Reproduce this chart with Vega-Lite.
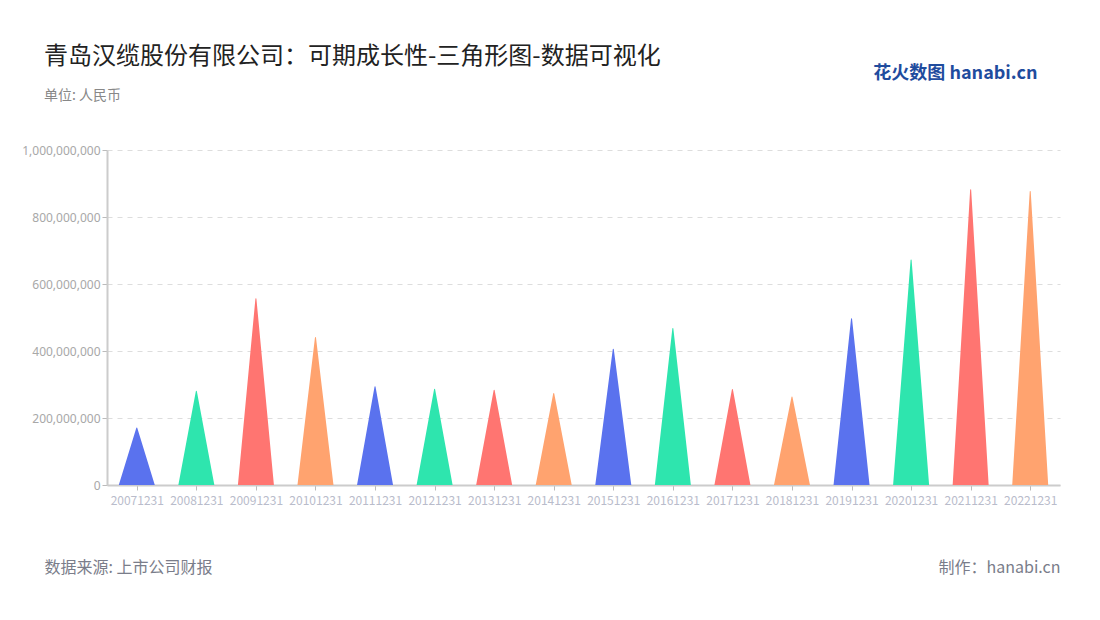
{
  "$schema": "https://vega.github.io/schema/vega-lite/v6.json",
  "autosize": {"type": "none"},
  "width": 953,
  "height": 335,
  "padding": {"left": 107, "top": 150, "right": 40, "bottom": 135},
  "background": "white",
  "config": {
    "font": "Noto Sans CJK SC",
    "view": {"stroke": null}
  },
  "title": {
    "text": "青岛汉缆股份有限公司：可期成长性-三角形图-数据可视化",
    "subtitle": "单位: 人民币",
    "anchor": "start",
    "frame": "group",
    "dx": -63,
    "offset": -39,
    "fontSize": 24,
    "fontWeight": "normal",
    "color": "#222222",
    "subtitleFontSize": 14,
    "subtitleColor": "#888888",
    "subtitlePadding": 20
  },
  "data": {
    "values": [
      {"date": "20071231", "value": 170000000},
      {"date": "20081231", "value": 280000000},
      {"date": "20091231", "value": 556000000},
      {"date": "20101231", "value": 440000000},
      {"date": "20111231", "value": 293000000},
      {"date": "20121231", "value": 286000000},
      {"date": "20131231", "value": 283000000},
      {"date": "20141231", "value": 273000000},
      {"date": "20151231", "value": 405000000},
      {"date": "20161231", "value": 467000000},
      {"date": "20171231", "value": 285000000},
      {"date": "20181231", "value": 263000000},
      {"date": "20191231", "value": 496000000},
      {"date": "20201231", "value": 672000000},
      {"date": "20211231", "value": 881000000},
      {"date": "20221231", "value": 876000000}
    ]
  },
  "layer": [
    {
      "transform": [
        {"calculate": "0", "as": "base"},
        {"fold": ["base", "value"], "as": ["key", "y"]}
      ],
      "mark": {"type": "trail", "clip": true},
      "encoding": {
        "x": {
          "field": "date",
          "type": "nominal",
          "sort": null,
          "axis": {
            "labelAngle": 0,
            "labelFontSize": 12,
            "labelColor": "#b9bccb",
            "labelPadding": 5,
            "tickColor": "#bbbbbb",
            "tickSize": 5,
            "domainColor": "#cccccc",
            "domainWidth": 2,
            "grid": false,
            "title": "数据来源: 上市公司财报",
            "titleFontSize": 16,
            "titleFontWeight": "normal",
            "titleColor": "#7a7d8a",
            "titleAlign": "left",
            "titleAnchor": "start",
            "titleBaseline": "middle",
            "titleX": -63,
            "titleY": 82
          }
        },
        "y": {
          "field": "y",
          "type": "quantitative",
          "scale": {"domain": [0, 1000000000]},
          "axis": {
            "values": [0, 200000000, 400000000, 600000000, 800000000, 1000000000],
            "format": ",d",
            "labelFontSize": 12,
            "labelColor": "#a8a8a8",
            "labelFont": "Noto Sans",
            "tickColor": "#bbbbbb",
            "tickSize": 5,
            "domainColor": "#cccccc",
            "domainWidth": 2,
            "grid": true,
            "gridColor": "#dddddd",
            "gridDash": [5, 5],
            "title": null
          }
        },
        "size": {
          "field": "key",
          "type": "ordinal",
          "scale": {"type": "ordinal", "domain": ["base", "value"], "range": [36, 0]},
          "legend": null
        },
        "order": {"field": "key", "type": "ordinal"},
        "detail": {"field": "date", "type": "nominal"},
        "color": {
          "field": "date",
          "type": "nominal",
          "scale": {
            "range": ["#5a72ee", "#2ee5ae", "#ff7571", "#ffa36f", "#5a72ee", "#2ee5ae", "#ff7571", "#ffa36f", "#5a72ee", "#2ee5ae", "#ff7571", "#ffa36f", "#5a72ee", "#2ee5ae", "#ff7571", "#ffa36f"]
          },
          "legend": null
        }
      }
    },
    {
      "mark": {"type": "point", "opacity": 0},
      "encoding": {
        "x": {
          "field": "date",
          "type": "nominal",
          "sort": null,
          "axis": {
            "orient": "top",
            "labels": false,
            "ticks": false,
            "domain": false,
            "grid": false,
            "title": "花火数图 hanabi.cn",
            "titleFontSize": 18,
            "titleFontWeight": "bold",
            "titleColor": "#1f4c9e",
            "titleAlign": "right",
            "titleAnchor": "end",
            "titleBaseline": "middle",
            "titleX": 930,
            "titleY": -77
          }
        },
        "y": {
          "field": "value",
          "type": "quantitative",
          "axis": {
            "orient": "right",
            "labels": false,
            "ticks": false,
            "domain": false,
            "grid": false,
            "title": "制作：hanabi.cn",
            "titleAngle": 0,
            "titleFontSize": 16,
            "titleFontWeight": "normal",
            "titleColor": "#7a7d8a",
            "titleAlign": "right",
            "titleBaseline": "middle",
            "titleX": 0,
            "titleY": 417
          }
        }
      }
    }
  ],
  "resolve": {"axis": {"x": "independent", "y": "independent"}}
}
